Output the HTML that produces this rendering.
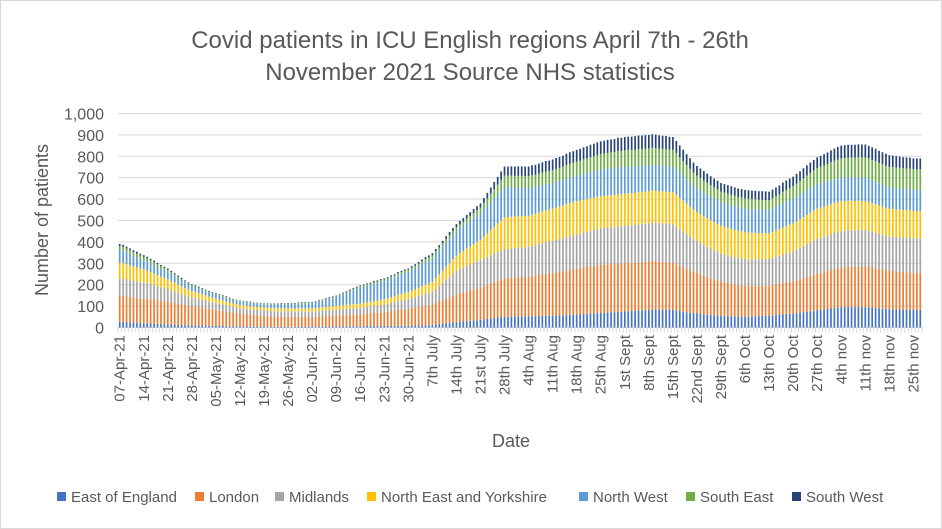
<!DOCTYPE html>
<html><head><meta charset="utf-8"><style>
body{margin:0;background:#fff}
svg{display:block;font-family:"Liberation Sans",sans-serif}
</style></head><body>
<svg id="chart" width="942" height="529" viewBox="0 0 942 529" xmlns="http://www.w3.org/2000/svg">
<rect x="0.5" y="0.5" width="941" height="528" fill="#fff" stroke="#d9d9d9"/>
<text x="470" y="48" text-anchor="middle" font-size="24" fill="#595959">Covid patients in ICU English regions April 7th - 26th</text>
<text x="470" y="80" text-anchor="middle" font-size="24" fill="#595959">November 2021 Source NHS statistics</text>
<text transform="translate(48,220) rotate(-90)" text-anchor="middle" font-size="18" fill="#595959">Number of patients</text>
<text x="511" y="447" text-anchor="middle" font-size="18" fill="#595959">Date</text>
<g id="grid"></g><g id="ticks"></g><g id="bars"></g><g id="xlabels"></g><g id="legend"></g>
</svg>
<script>
const east=[27,26,25,24,23,22,21,20,20,19,18,17,16,16,15,14,13,12,12,11,11,10,10,9,9,9,8,8,8,7,7,6,6,6,5,5,5,5,4,4,4,4,4,4,3,3,3,3,3,3,3,3,4,4,4,4,4,4,4,5,5,5,5,5,5,6,6,6,6,6,6,6,7,7,7,7,7,7,7,8,8,8,8,8,8,9,9,10,10,11,11,12,14,16,18,20,22,24,25,27,28,30,31,33,34,35,38,40,42,45,47,49,50,50,51,51,52,52,52,52,53,53,54,54,55,55,55,56,57,57,58,59,60,60,61,63,64,65,66,67,68,69,70,71,72,73,74,75,76,77,78,79,80,81,82,83,84,83,82,83,82,82,80,77,74,71,68,66,65,63,61,59,58,57,56,55,54,53,52,51,51,50,50,50,51,52,53,54,55,55,57,58,60,61,63,64,65,67,69,72,74,76,78,80,82,84,87,89,92,94,95,96,97,96,95,96,95,95,94,93,91,90,88,87,85,85,84,84,83,83,83,82,82,82];
const london=[120,122,120,119,118,117,116,115,114,113,111,110,108,106,105,103,101,99,97,94,92,90,88,86,84,81,79,77,75,73,71,69,66,64,62,60,59,57,56,54,53,51,50,49,49,48,48,48,47,47,47,46,46,46,45,45,45,46,47,47,48,49,49,50,51,51,52,53,54,54,55,56,58,59,61,62,64,65,67,69,71,74,76,78,80,82,84,86,89,91,93,95,100,105,110,115,120,125,130,133,136,139,142,145,148,150,154,158,163,167,171,176,180,181,182,182,183,184,184,185,187,189,191,194,196,198,200,202,204,206,209,211,213,215,216,218,219,221,222,224,225,225,226,225,224,226,225,225,226,225,224,226,225,225,225,227,225,223,224,222,221,220,216,211,207,203,198,194,190,186,181,177,172,168,164,160,158,156,153,151,149,147,145,144,143,142,141,141,140,140,141,143,144,146,147,149,150,153,156,159,162,165,168,170,172,174,176,179,181,183,185,186,187,188,189,190,190,190,189,187,186,184,183,181,180,179,178,177,176,175,174,173,172,172];
const midlands=[80,80,79,78,78,77,76,75,73,71,69,66,64,62,60,57,54,51,48,45,42,40,39,38,37,36,34,33,32,31,30,29,28,27,26,25,25,25,25,25,25,25,25,25,25,25,25,25,25,25,25,25,25,25,25,25,25,25,26,26,26,27,27,28,28,28,29,29,29,30,30,31,31,32,33,33,34,35,36,38,39,41,42,44,45,47,49,51,54,56,58,60,67,74,81,89,96,103,110,113,116,119,121,124,127,130,131,131,132,133,134,134,135,136,136,137,138,139,139,140,141,143,144,146,147,149,150,151,153,154,156,157,159,160,161,163,164,166,167,169,170,171,171,172,173,174,174,175,176,176,177,178,179,179,180,180,180,181,180,180,180,180,176,171,167,163,159,154,150,147,144,141,139,136,133,130,129,128,128,127,126,126,125,125,125,125,125,125,125,125,127,129,131,134,136,138,140,144,147,151,154,158,161,165,166,166,167,168,169,169,170,170,170,170,170,170,170,170,169,167,166,164,163,161,160,160,161,161,162,162,163,163,163,163];
const northEastYorks=[75,73,71,69,66,64,62,60,58,56,54,51,49,47,45,43,41,39,36,34,32,30,29,27,26,24,23,21,20,19,19,18,17,16,16,15,15,15,15,14,14,14,14,14,14,14,14,14,14,14,14,14,15,15,15,15,15,15,16,16,17,17,18,18,18,19,19,19,20,20,20,21,21,22,23,23,24,25,26,27,28,30,31,32,32,34,36,38,40,42,44,45,49,52,56,60,63,67,70,74,77,81,84,88,91,95,103,111,119,126,134,142,150,149,149,148,147,146,146,145,146,146,147,148,149,149,150,151,151,152,153,154,154,155,154,154,153,152,151,151,150,150,150,150,150,150,150,150,150,150,150,150,150,150,150,150,150,150,150,150,150,150,148,146,144,141,139,137,135,134,134,133,132,131,131,130,129,129,128,127,126,126,125,124,124,123,122,121,121,120,121,123,124,126,127,129,130,131,133,134,136,137,139,140,140,140,140,140,140,140,140,139,139,138,137,136,136,135,134,134,133,132,131,131,130,130,129,129,128,128,128,127,127,127];
const northWest=[60,58,56,54,51,49,47,45,44,42,41,39,38,36,35,33,31,29,27,25,24,22,21,21,20,19,19,18,18,18,17,17,17,16,16,16,16,16,16,15,15,15,15,16,16,17,18,19,19,20,21,21,22,23,24,24,25,27,29,31,34,36,38,40,45,50,55,60,65,70,75,76,78,79,81,82,84,85,86,88,89,91,92,94,95,97,99,101,104,106,108,110,111,111,112,113,114,114,115,116,118,119,121,122,124,125,127,129,131,134,136,138,140,139,137,136,134,133,131,130,129,127,126,124,123,121,120,120,120,120,120,120,120,120,121,121,122,123,124,124,125,125,125,125,125,125,125,125,124,124,123,122,121,121,120,120,120,120,120,120,120,120,119,117,116,114,113,111,110,110,110,110,110,110,110,110,110,110,110,110,110,110,110,110,110,110,110,110,110,110,111,111,112,113,114,114,115,115,115,115,115,115,115,115,114,114,113,112,111,111,110,110,110,110,110,110,110,110,109,107,106,104,103,101,100,100,99,99,99,98,98,98,98,98];
const southEast=[18,18,17,17,16,16,15,15,14,13,13,12,11,11,10,9,9,8,7,7,6,6,6,6,5,5,5,5,5,5,4,4,4,3,3,3,3,3,3,3,3,3,3,3,3,3,3,3,3,3,3,3,3,4,4,4,4,4,4,4,5,5,5,5,5,6,6,6,7,7,7,7,7,7,8,8,8,8,8,9,9,9,10,10,10,11,12,12,13,14,14,15,15,16,16,17,17,18,18,19,20,21,22,23,24,25,29,34,38,42,46,51,55,55,55,55,55,55,55,55,56,56,57,58,59,59,60,61,61,62,63,64,64,65,66,67,68,69,70,71,72,73,74,75,76,77,77,78,78,78,79,79,79,80,80,80,80,79,79,79,78,78,75,73,70,67,65,62,60,59,57,56,54,53,51,50,50,49,49,49,48,48,48,48,47,47,46,46,45,45,47,49,51,54,56,58,60,62,64,66,69,71,73,75,77,79,81,84,86,88,90,91,91,92,93,94,94,95,95,95,95,95,95,95,95,95,96,96,96,97,97,97,98,98];
const southWest=[10,10,10,9,9,9,8,8,8,7,7,7,6,6,6,6,5,5,5,4,4,4,4,4,3,3,3,3,3,3,3,3,2,2,2,2,2,2,2,2,2,2,2,2,2,2,2,2,2,2,2,2,2,2,2,2,2,2,2,2,3,3,3,3,3,3,3,4,4,4,4,4,4,4,5,5,5,5,5,5,5,6,6,6,6,7,7,8,8,9,9,10,11,11,12,13,14,14,15,16,16,17,18,19,19,20,23,26,29,33,36,39,42,42,43,43,44,44,45,45,46,46,47,48,49,49,50,51,51,52,53,54,54,55,56,56,57,58,59,59,60,60,61,61,61,62,62,62,62,62,63,63,63,63,63,63,62,62,61,61,60,60,58,56,53,51,49,47,45,44,44,43,42,41,41,40,40,40,40,40,40,40,40,40,40,40,40,40,40,40,41,41,42,43,44,44,45,46,46,47,48,49,49,50,51,53,54,56,57,59,60,60,60,60,60,60,60,60,59,59,58,57,56,56,55,54,54,53,52,52,51,50,50,50];
const seriesNames=["East of England","London","Midlands","North East and Yorkshire","North West","South East","South West"];
const seriesData=[east,london,midlands,northEastYorks,northWest,southEast,southWest];
const seriesColors=["#4472C4","#ED7D31","#A5A5A5","#FFC000","#5B9BD5","#70AD47","#264478"];
const xTickLabels=["07-Apr-21","14-Apr-21","21-Apr-21","28-Apr-21","05-May-21","12-May-21","19-May-21","26-May-21","02-Jun-21","09-Jun-21","16-Jun-21","23-Jun-21","30-Jun-21","7th July","14th July","21st July","28th July","4th Aug","11th Aug","18th Aug","25th Aug","1st Sept","8th Sept","15th Sept","22nd Sept","29th Sept","6th Oct","13th Oct","20th Oct","27th Oct","4th nov","11th nov","18th nov","25th nov"];
const yTicks=[0,100,200,300,400,500,600,700,800,900,1000];

const NS="http://www.w3.org/2000/svg";
const X0=118,X1=922,Y0=327.5,Y1=113.5,YMAX=1000;
const n=east.length, band=(X1-X0)/n;
const xc=i=>X0+band*(i+0.5);
const ys=v=>Y0-(v/YMAX)*(Y0-Y1);
function mk(tag,attrs,parent){const e=document.createElementNS(NS,tag);for(const k in attrs)e.setAttribute(k,attrs[k]);parent.appendChild(e);return e;}
const grid=document.getElementById('grid'),ticks=document.getElementById('ticks'),bars=document.getElementById('bars'),xl=document.getElementById('xlabels'),lg=document.getElementById('legend');
yTicks.forEach(v=>{
  if(v>0){const l=mk('line',{x1:X0,x2:X1,y1:ys(v),y2:ys(v),stroke:'#d9d9d9','stroke-width':1},grid);
  
  }
  const t=mk('text',{x:104,y:ys(v)+6,'text-anchor':'end','font-size':16,fill:'#595959'},ticks);
  t.textContent=v.toLocaleString('en-US');
  
  
});
const ax=mk('line',{x1:X0,x2:X1,y1:Y0,y2:Y0,stroke:'#d9d9d9','stroke-width':1},grid);


for(let i=0;i<=n;i++){
  const tk=mk('line',{x1:X0+band*i,x2:X0+band*i,y1:Y0,y2:Y0+5,stroke:'#d9d9d9','stroke-width':1},grid);
  
  
}
for(let i=0;i<n;i++){
  let cum=0;
  seriesData.forEach((s,k)=>{
    const v=s[i];
    const r=mk('rect',{x:xc(i)-0.85,width:1.7,y:ys(cum+v),height:Math.max(0,ys(cum)-ys(cum+v)),fill:seriesColors[k]},bars);
    
    
    cum+=v;
  });
}
xTickLabels.forEach((lab,j)=>{
  const x=xc(j*7)+5;
  const t=mk('text',{transform:`translate(${x},335) rotate(-90)`,'text-anchor':'end','font-size':15,fill:'#595959'},xl);
  t.textContent=lab;
  
  
});
const lx=[57,195,275,367,579,686,792];
seriesNames.forEach((nm,k)=>{
  const g=mk('g',{},lg);
  
  
  mk('rect',{x:lx[k],y:492,width:9,height:9,fill:seriesColors[k]},g);
  const t=mk('text',{x:lx[k]+14,y:502,'font-size':15,fill:'#595959'},g);
  t.textContent=nm;
});
</script>
</body></html>
